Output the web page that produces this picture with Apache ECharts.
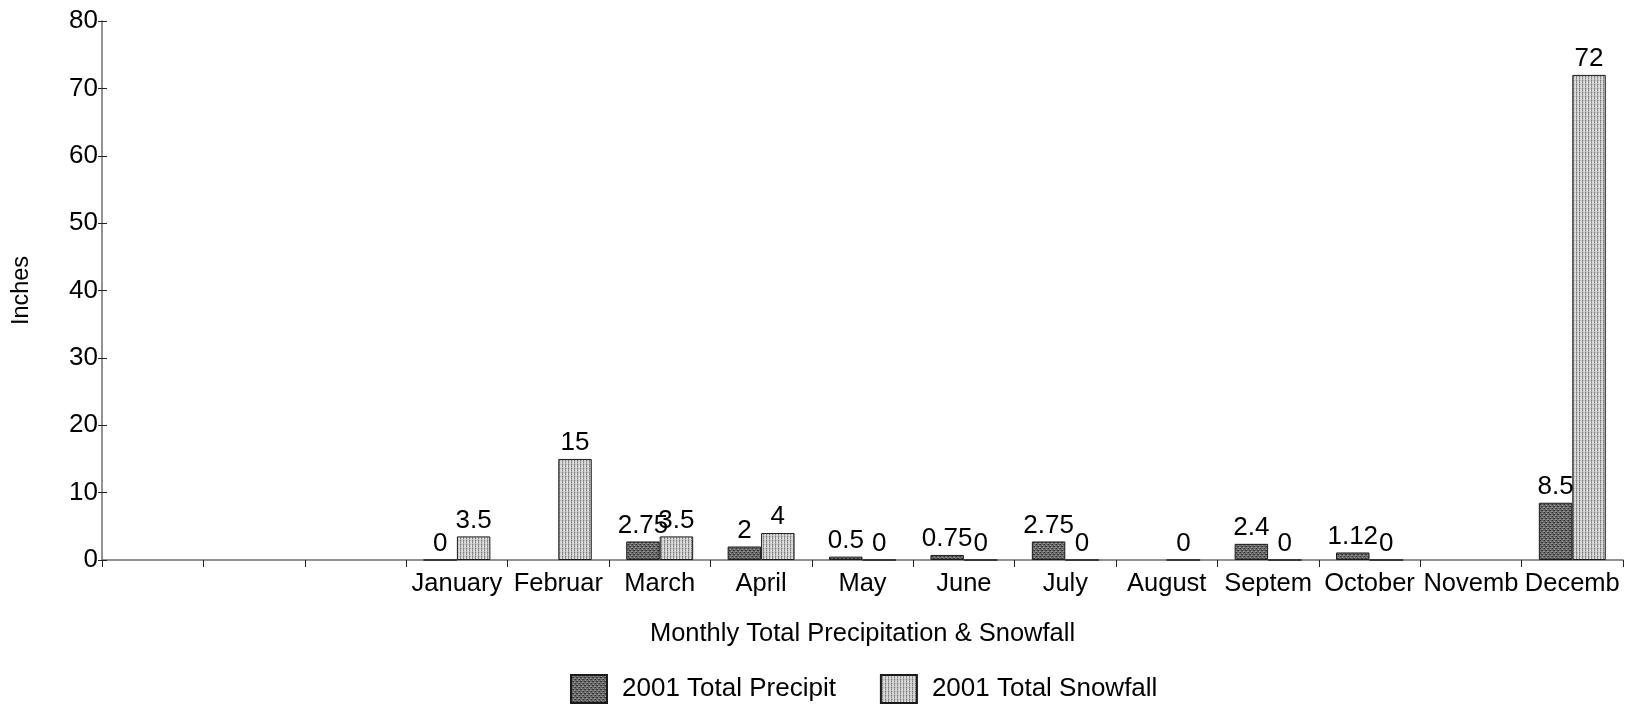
<!DOCTYPE html>
<html>
<head>
<meta charset="utf-8">
<title>Monthly Total Precipitation & Snowfall</title>
<script src="https://cdn.jsdelivr.net/npm/echarts@6/dist/echarts.min.js"></script>
<style>
  html, body { margin: 0; padding: 0; background: #fff; }
  #chart { width: 1631px; height: 706px; }
</style>
</head>
<body>
<div id="chart"></div>
<script>
// Three leading slots are left empty on the axis, then the twelve months.
const categories = ['', '', '', 'January', 'Februar', 'March', 'April', 'May', 'June',
  'July', 'August', 'Septem', 'October', 'Novemb', 'Decemb'];
const precipitation = [null, null, null, 0, null, 2.75, 2, 0.5, 0.75, 2.75, null, 2.4, 1.12, null, 8.5];
const snowfall = [null, null, null, 3.5, 15, 3.5, 4, 0, 0, 0, 0, 0, 0, null, 72];
const seriesNames = ['2001 Total Precipit', '2001 Total Snowfall'];
const yTicks = { min: 0, max: 80, interval: 10 };

const FONT = '"Liberation Sans", Arial, Helvetica, sans-serif';

// Small stippled tiles used as bar fills.
function makeTile(w, h, base, dots) {
  const c = document.createElement('canvas');
  c.width = w; c.height = h;
  const g = c.getContext('2d');
  g.fillStyle = base;
  g.fillRect(0, 0, w, h);
  dots.forEach(([x, y, col]) => { g.fillStyle = col; g.fillRect(x, y, 1, 1); });
  return c;
}
const darkTile = makeTile(4, 4, '#6a6a6a', [
  [0, 0, '#2e2e2e'], [2, 1, '#a0a0a0'], [1, 2, '#3a3a3a'], [3, 3, '#9a9a9a'],
  [3, 0, '#505050'], [0, 3, '#8a8a8a'], [2, 2, '#2a2a2a']
]);
const lightTile = makeTile(3, 4, '#d4d4d4', [
  [1, 0, '#7a7a7a'], [1, 1, '#9a9a9a'], [1, 2, '#7a7a7a'], [1, 3, '#b0b0b0'],
  [0, 2, '#eeeeee'], [2, 0, '#bcbcbc']
]);

const labelStyle = {
  show: true,
  position: 'top',
  distance: 3,
  color: '#000',
  fontFamily: FONT,
  fontSize: 26
};

const yBase = {
  type: 'value',
  min: yTicks.min,
  max: yTicks.max,
  interval: yTicks.interval,
  position: 'left',
  splitLine: { show: false }
};

const chart = echarts.init(document.getElementById('chart'), null, { renderer: 'canvas' });
chart.setOption({
  backgroundColor: '#ffffff',
  animation: false,
  textStyle: { fontFamily: FONT },
  grid: { left: 102, right: 8, top: 21, bottom: 146, containLabel: false },
  legend: {
    data: seriesNames,
    top: 674,
    left: 570,
    padding: 0,
    icon: 'rect',
    itemWidth: 36,
    itemHeight: 28,
    itemGap: 44,
    textStyle: { color: '#000', fontSize: 26, fontFamily: FONT, padding: [0, 0, 0, 10] }
  },
  xAxis: {
    type: 'category',
    data: categories,
    boundaryGap: true,
    name: 'Monthly Total Precipitation & Snowfall',
    nameLocation: 'middle',
    nameGap: 61,
    nameTextStyle: { color: '#000', fontSize: 25.5, fontFamily: FONT },
    axisLine: { show: true, lineStyle: { color: '#6f6f6f', width: 1.5 } },
    axisTick: { show: true, alignWithLabel: false, interval: 0, length: 7, lineStyle: { color: '#222' } },
    axisLabel: { interval: 0, color: '#000', fontSize: 25.5, fontFamily: FONT, margin: 11 },
    splitLine: { show: false }
  },
  yAxis: [
    Object.assign({}, yBase, {
      name: 'Inches',
      nameLocation: 'middle',
      nameRotate: 90,
      nameGap: 68,
      nameTextStyle: { color: '#000', fontSize: 23.5, fontFamily: FONT },
      axisLine: { show: true, lineStyle: { color: '#6f6f6f', width: 1.5 } },
      axisTick: { show: true, length: 4, lineStyle: { color: '#222' } },
      axisLabel: { color: '#000', fontSize: 26, fontFamily: FONT, margin: 4 }
    }),
    // inner half of the cross ticks
    Object.assign({}, yBase, {
      axisLine: { show: false },
      axisTick: { show: true, inside: true, length: 5, lineStyle: { color: '#222' } },
      axisLabel: { show: false }
    })
  ],
  series: [
    {
      name: seriesNames[0],
      type: 'bar',
      data: precipitation,
      barGap: '0%',
      barCategoryGap: '34%',
      itemStyle: {
        color: { image: darkTile, repeat: 'repeat' },
        borderColor: '#1a1a1a',
        borderWidth: 1
      },
      label: labelStyle
    },
    {
      name: seriesNames[1],
      type: 'bar',
      data: snowfall,
      barGap: '0%',
      barCategoryGap: '34%',
      itemStyle: {
        color: { image: lightTile, repeat: 'repeat' },
        borderColor: '#1a1a1a',
        borderWidth: 1
      },
      label: labelStyle
    }
  ]
});
</script>
</body>
</html>
